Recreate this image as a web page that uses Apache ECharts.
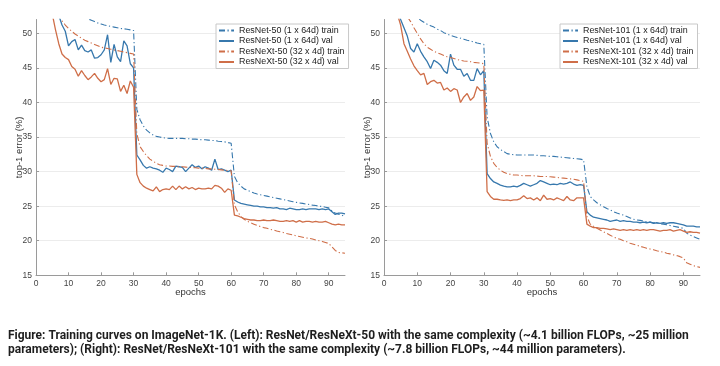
<!DOCTYPE html>
<html><head><meta charset="utf-8">
<script src="https://cdn.jsdelivr.net/npm/echarts@6/dist/echarts.min.js"></script>
<style>html,body{margin:0;padding:0;background:#fff}#c{width:720px;height:366px}</style>
</head><body><div id="c"></div>
<script>
// ---- Data (top-1 error %, epochs 1..95) ----
const L_resnet_train = [
80,70,65,62,60,58.5,57.3,56.3,55.5,54.8,
54.2,53.7,53.2,52.8,52.4,52.1,51.9,51.7,51.5,51.35,
51.2,51.1,51.0,50.9,50.8,50.7,50.65,50.6,50.5,50.4,
39.0,37.5,36.6,36.0,35.6,35.3,35.1,35.0,34.9,34.85,
34.8,34.8,34.8,34.8,34.8,34.75,34.75,34.7,34.7,34.65,
34.6,34.6,34.55,34.5,34.5,34.4,34.35,34.3,34.2,34.1,
29.3,28.4,27.9,27.5,27.3,27.1,26.9,26.75,26.65,26.55,
26.45,26.35,26.25,26.15,26.05,25.95,25.85,25.75,25.65,25.55,
25.45,25.4,25.3,25.25,25.15,25.1,25.0,24.95,24.85,24.75,
24.3,24.0,23.85,23.7,23.5];
const L_resnet_val = [
75,66,61,58,56,54,52.6,51.2,50.3,48.2,
48.8,49.1,47.6,48.3,47.5,47.3,47.6,46.4,46.5,46.9,
47.6,49.8,45.8,48.4,46.6,45.9,48.9,48.2,45.6,45.0,
32.4,31.7,30.9,30.5,30.7,30.5,30.4,30.2,29.9,30.5,
30.3,30.0,30.8,30.7,30.6,30.0,30.5,31.0,30.6,30.8,
30.4,30.7,30.5,30.2,31.8,30.3,30.4,30.2,30.0,30.2,
25.9,25.6,25.4,25.3,25.2,25.1,25.0,25.0,24.9,24.9,
24.8,24.8,24.7,24.8,24.6,24.6,24.5,24.7,24.6,24.5,
24.5,24.6,24.5,24.6,24.6,24.6,24.5,24.6,24.5,24.6,
24.2,23.8,24.0,24.0,23.9];
const L_resnext_train = [
72,63,59,56.5,55,53.8,52.7,51.8,51.2,50.7,
50.3,49.9,49.6,49.3,49.0,48.8,48.6,48.4,48.2,48.0,
47.9,47.8,47.7,47.6,47.5,47.4,47.3,47.2,47.1,47.0,
35.5,33.6,32.9,32.3,31.8,31.5,31.2,31.0,30.9,30.8,
30.8,30.75,30.75,30.7,30.7,30.65,30.6,30.6,30.55,30.5,
30.5,30.45,30.4,30.4,30.35,30.3,30.25,30.2,30.15,30.1,
25.2,24.2,23.5,23.1,22.8,22.6,22.4,22.2,22.05,21.9,
21.8,21.65,21.55,21.4,21.3,21.2,21.05,20.95,20.85,20.7,
20.6,20.5,20.4,20.35,20.25,20.1,20.0,19.9,19.75,19.6,
19.1,18.6,18.3,18.25,18.2];
const L_resnext_val = [
70,62,57,54.5,52.8,50.5,48.5,47.0,46.5,46.2,
45.2,44.8,43.8,44.6,43.9,43.3,43.7,44.2,43.5,43.0,
43.3,44.9,42.6,43.5,43.4,41.6,42.5,41.3,43.1,42.2,
29.6,28.4,27.9,27.6,27.4,27.2,27.8,27.1,27.4,27.5,
27.4,27.9,27.4,27.9,27.5,27.8,27.5,27.7,27.4,27.6,
27.5,27.5,27.6,27.5,28.0,27.9,27.6,27.0,27.5,27.3,
23.7,23.6,23.4,23.2,23.1,23.0,23.0,22.9,22.9,23.0,
22.9,22.9,23.0,22.9,22.8,22.8,22.9,22.8,22.9,22.7,
22.9,22.7,22.8,22.8,22.7,22.8,22.7,22.7,22.8,22.6,
22.4,22.3,22.4,22.3,22.3];
const R_resnet_train = [
85,74,68,64,61,58.5,56.6,55.0,53.8,52.3,
51.9,51.6,51.3,51.1,50.9,50.6,50.4,50.1,49.9,49.7,
49.55,49.4,49.3,49.15,49.0,48.9,48.75,48.6,48.5,48.4,
37.9,35.5,34.3,33.6,33.2,32.9,32.6,32.5,32.45,32.4,
32.4,32.4,32.4,32.4,32.4,32.35,32.3,32.3,32.25,32.2,
32.2,32.15,32.1,32.05,32.0,31.95,31.9,31.85,31.8,31.7,
27.8,26.4,25.9,25.5,25.2,24.9,24.65,24.45,24.2,24.0,
23.85,23.7,23.5,23.3,23.1,23.0,22.95,22.85,22.75,22.7,
22.6,22.55,22.45,22.4,22.3,22.2,22.1,22.0,21.9,21.8,
21.1,20.8,20.6,20.4,20.2];
const R_resnet_val = [
72,63,57,53.5,52.0,50.8,49.6,47.8,47.3,48.5,
47.4,46.6,45.9,44.9,46.1,45.8,45.4,44.6,44.2,47.0,
45.4,44.8,44.8,43.8,44.2,43.2,43.2,44.9,44.0,44.6,
29.7,29.0,28.5,28.3,28.05,27.9,27.8,27.8,27.9,27.8,
28.0,28.3,28.1,27.9,28.1,28.3,28.7,28.5,28.3,28.1,
28.2,28.1,28.3,28.2,28.3,28.5,28.2,28.0,28.1,28.0,
24.2,23.7,23.4,23.3,23.2,23.1,23.0,22.8,22.9,23.0,
22.8,22.9,22.8,22.8,22.7,22.7,22.6,22.7,22.6,22.7,
22.5,22.6,22.5,22.6,22.5,22.6,22.6,22.5,22.4,22.3,
22.1,22.1,22.1,22.0,22.0];
const R_resnext_train = [
75,66,61,57.5,55.2,53.6,52.4,51.7,50.8,50.0,
49.2,48.5,48.0,47.7,47.4,47.2,47.0,46.8,46.6,46.5,
46.35,46.2,46.1,46.0,45.95,45.9,45.8,45.75,45.7,45.6,
34.1,32.2,31.2,30.6,30.2,29.9,29.7,29.6,29.5,29.5,
29.45,29.4,29.4,29.4,29.4,29.35,29.3,29.3,29.3,29.25,
29.2,29.15,29.1,29.05,29.0,28.95,28.9,28.8,28.7,28.6,
23.5,22.4,22.1,21.8,21.55,21.3,21.05,20.8,20.55,20.35,
20.2,20.0,19.85,19.65,19.5,19.35,19.2,19.05,18.9,18.8,
18.7,18.55,18.45,18.35,18.2,18.1,17.95,17.85,17.7,17.5,
16.8,16.6,16.4,16.25,16.15];
const R_resnext_val = [
68,60,55.5,52.8,51.2,48.5,47.4,46.3,45.3,44.6,
44.0,44.2,42.6,43.0,43.2,42.8,42.9,41.8,42.1,41.6,
42.0,41.8,40.0,40.8,41.3,40.3,40.8,42.3,41.7,41.8,
27.1,26.4,26.0,26.0,25.9,25.85,25.9,25.8,25.9,25.9,
26.1,26.5,26.1,26.2,25.9,26.2,25.8,26.6,26.0,26.1,
25.9,26.2,26.0,25.8,26.4,25.9,25.8,26.2,26.2,26.2,
22.4,22.1,21.9,21.9,21.8,21.8,21.7,21.6,21.7,21.6,
21.5,21.6,21.5,21.6,21.5,21.6,21.5,21.6,21.5,21.6,
21.6,21.5,21.4,21.5,21.5,21.6,21.4,21.5,21.6,21.4,
21.2,21.3,21.2,21.2,21.1];

const legendLeft = ['ResNet-50 (1 x 64d) train','ResNet-50 (1 x 64d) val','ResNeXt-50 (32 x 4d) train','ResNeXt-50 (32 x 4d) val'];
const legendRight = ['ResNet-101 (1 x 64d) train','ResNet-101 (1 x 64d) val','ResNeXt-101 (32 x 4d) train','ResNeXt-101 (32 x 4d) val'];
const xTicks = [0,10,20,30,40,50,60,70,80,90];
const yTicks = [15,20,25,30,35,40,45,50];
const xLabel = 'epochs';
const yLabel = 'top-1 error (%)';
const caption = 'Figure: Training curves on ImageNet-1K. (Left): ResNet/ResNeXt-50 with the same complexity (~4.1 billion FLOPs, ~25 million\nparameters); (Right): ResNet/ResNeXt-101 with the same complexity (~7.8 billion FLOPs, ~44 million parameters).';

// ---- Chart ----
const BLUE = '#3778ad', ORANGE = '#cf6e48';
const DASHDOT = [6, 2.5, 1.2, 2.5];
const toPts = arr => arr.map((v, i) => [i + 1, v]);

function xAxis(gi) {
  return {
    gridIndex: gi, type: 'value', min: 0, max: 95, interval: 10,
    name: xLabel, nameLocation: 'middle', nameGap: 12, nameMoveOverlap: false,
    nameTextStyle: { fontSize: 9.5, color: '#333', fontFamily: 'Liberation Sans' },
    axisLine: { show: true, lineStyle: { color: '#9a9a9a', width: 1 } },
    axisTick: { show: true, inside: true, length: 3, lineStyle: { color: '#9a9a9a' } },
    axisLabel: { fontSize: 8.5, color: '#444', margin: 4, fontFamily: 'Liberation Sans', showMaxLabel: false,
      formatter: v => (xTicks.indexOf(v) >= 0 ? String(v) : '') },
    splitLine: { show: false }
  };
}
function yAxis(gi) {
  return {
    gridIndex: gi, type: 'value', min: 15, max: 52, interval: 5,
    name: yLabel, nameLocation: 'middle', nameGap: 12, nameMoveOverlap: false,
    nameTextStyle: { fontSize: 9.5, color: '#333', fontFamily: 'Liberation Sans' },
    axisLine: { show: true, lineStyle: { color: '#9a9a9a', width: 1 } },
    axisTick: { show: true, inside: true, length: 3, lineStyle: { color: '#9a9a9a' } },
    axisLabel: { fontSize: 8.5, color: '#444', margin: 4, fontFamily: 'Liberation Sans', showMaxLabel: false,
      formatter: v => (yTicks.indexOf(v) >= 0 ? String(v) : '') },
    splitLine: { show: true, showMaxLine: false, showMinLine: false, lineStyle: { color: '#ececec', width: 1 } }
  };
}
function ser(name, data, color, dashed, gi) {
  return {
    name, type: 'line', xAxisIndex: gi, yAxisIndex: gi, data: toPts(data),
    showSymbol: false, symbol: 'none', clip: true, animation: false,
    lineStyle: { color, width: dashed ? 1.1 : 1.3, type: dashed ? DASHDOT : 'solid' },
    itemStyle: { color }
  };
}
function legend(x, names) {
  return {
    data: names, orient: 'vertical', left: x, top: 24,
    itemWidth: 15, itemHeight: 9, itemGap: 1.5, padding: [2, 4, 2, 2],
    backgroundColor: '#fff', borderColor: '#c8c8c8', borderWidth: 1,
    itemStyle: { opacity: 0 },
    textStyle: { fontSize: 8.9, color: '#222', fontFamily: 'Liberation Sans', lineHeight: 9 },
    selectedMode: false
  };
}

const chart = echarts.init(document.getElementById('c'), null, { renderer: 'canvas' });
chart.setOption({
  animation: false,
  backgroundColor: '#fff',
  grid: [
    { left: 36, right: 375, top: 19.5, bottom: 90.7 },
    { left: 384, right: 20, top: 19.5, bottom: 90.7 }
  ],
  xAxis: [xAxis(0), xAxis(1)],
  yAxis: [yAxis(0), yAxis(1)],
  legend: [legend(216, legendLeft), legend(560, legendRight)],
  series: [
    ser(legendLeft[0], L_resnet_train, BLUE, true, 0),
    ser(legendLeft[1], L_resnet_val, BLUE, false, 0),
    ser(legendLeft[2], L_resnext_train, ORANGE, true, 0),
    ser(legendLeft[3], L_resnext_val, ORANGE, false, 0),
    ser(legendRight[0], R_resnet_train, BLUE, true, 1),
    ser(legendRight[1], R_resnet_val, BLUE, false, 1),
    ser(legendRight[2], R_resnext_train, ORANGE, true, 1),
    ser(legendRight[3], R_resnext_val, ORANGE, false, 1)
  ],
  graphic: [{
    type: 'text', left: 8, top: 329,
    style: { text: caption, font: 'bold 12px Roboto', fill: '#1e1e1e', lineHeight: 14 }
  }]
});
</script></body></html>
